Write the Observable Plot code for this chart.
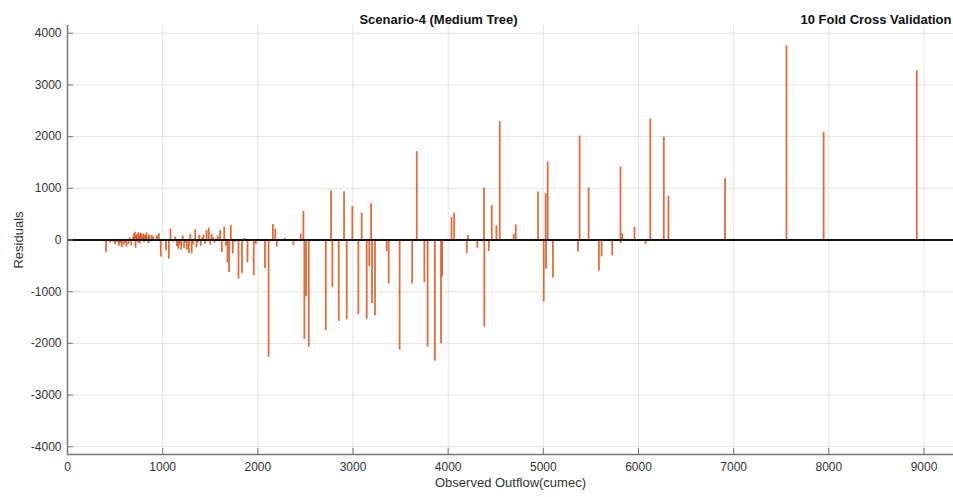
<!DOCTYPE html>
<html>
<head>
<meta charset="utf-8">
<script src="https://cdn.jsdelivr.net/npm/d3@7"></script>
<script src="https://cdn.jsdelivr.net/npm/@observablehq/plot@0.6"></script>
<style>
  html, body { margin: 0; padding: 0; background: #fff; }
  #chart { width: 953px; height: 497px; overflow: hidden; }
</style>
</head>
<body>
<div id="chart"></div>
<script>
const titleLeft = "Scenario-4 (Medium Tree)";
const titleRight = "10 Fold Cross Validation";
const xLabel = "Observed Outflow(cumec)";
const yLabel = "Residuals";

const xTicks = [0, 1000, 2000, 3000, 4000, 5000, 6000, 7000, 8000, 9000];
const yTicks = [-4000, -3000, -2000, -1000, 0, 1000, 2000, 3000, 4000];
const xDomain = [0, 9310];
const yDomain = [-4150, 4150];

const observed = [
  405, 450, 480, 500, 520, 540, 555, 570, 590, 605, 620, 640, 655, 670, 690, 700, 708, 715, 722, 730, 738, 745, 752, 760,
  768, 775, 782, 790, 798, 805, 812, 820, 830, 840, 848, 855, 862, 870, 885, 900, 920, 940, 960, 980, 1035, 1065, 1082,
  1110, 1130, 1150, 1165, 1180, 1195, 1210, 1225, 1240, 1255, 1276, 1290, 1305, 1320, 1342, 1355,
  1370, 1385, 1400, 1415, 1430, 1445, 1462, 1485, 1500, 1515, 1530, 1545, 1560, 1580, 1604, 1621,
  1647, 1665, 1681, 1698, 1716, 1737, 1760, 1797, 1833, 1860, 1891, 1930, 1957, 1979, 2030, 2075,
  2113, 2158, 2183, 2199, 2287, 2374, 2451, 2479, 2489, 2507, 2535,
  2714, 2769, 2783, 2850, 2906, 2934, 2993, 3056, 3091, 3144, 3171, 3190, 3200, 3231, 3354, 3375,
  3490, 3622, 3670, 3750, 3784, 3860, 3925, 3937, 4035, 4063, 4196, 4207, 4306, 4376, 4380, 4427,
  4458, 4507, 4542, 4689, 4710, 4944, 5004, 5025, 5028, 5046, 5101, 5364, 5381, 5476, 5584, 5612,
  5724, 5811, 5813, 5829, 5958, 6074, 6124, 6266, 6315, 6910, 7555, 7945, 8924
];
const residuals = [
  -240, -60, -40, -90, -50, -120, -70, -150, -100, -60, -140, -90, 40, -110, 60, 120, 150, -160, 90, 100, -60, 140, 70, -80,
  130, 110, 50, 60, 120, -50, 80, 90, 140, 30, -70, 100, 60, -40, 90, 60, -30, 80, 120, -330, -210, -370, 210,
  -40, 60, -130, -180, -100, -200, 80, -160, -60, -200, -260, 110, -270, -90, 200, -150,
  -60, 90, -120, 40, 100, -80, 180, 230, -100, 110, 40, -60, 20, 80, 180, -240,
  250, -120, -445, -630, 280, -270, -50, -755, -650, 30, -440, -20, -690, -90, -30, -550,
  -2270, 300, 215, -135, 30, -110, 115, 555, -1925, -1100, -2075,
  -1755, 955, -915, -1575, 935, -1545, 650, -1445, 520, -1535, -515, 700, -1230, -1465, -226, -850,
  -2130, -848, 1710, -825, -2073, -2344, -2008, -716, 435, 518, -267, 85, -158, 1005, -1686, -222,
  667, 274, 2290, 110, 290, 929, -1198, 897, -567, 1509, -735, -232, 2011, 1006, -600, -329,
  -309, 1412, -70, 120, 251, -90, 2340, 1990, 845, 1191, 3760, 2081, 3275
];

const data = observed.map((x, i) => ({x, r: residuals[i]}));

const font = "'Liberation Sans', Arial, Helvetica, sans-serif";
const width = 953, height = 497;
const mL = 67, mR = 0, mT = 25, mB = 43;
const frameW = width - mL - mR, frameH = height - mT - mB;
const fmt = d => String(d);

const chart = Plot.plot({
  width, height,
  marginLeft: mL, marginRight: mR, marginTop: mT, marginBottom: mB,
  style: {fontFamily: font, fontSize: "12px", color: "#333", background: "#fff"},
  x: {domain: xDomain, label: null},
  y: {domain: yDomain, label: null},
  marks: [
    Plot.gridX(xTicks, {stroke: "#e3e3e3", strokeOpacity: 1}),
    Plot.gridY(yTicks, {stroke: "#e3e3e3", strokeOpacity: 1}),
    Plot.ruleX(data, {x: "x", y1: 0, y2: "r", stroke: "#D95319", strokeOpacity: 0.85, strokeWidth: 1.8}),
    Plot.ruleY([0], {stroke: "#111", strokeWidth: 2}),
    Plot.ruleX([xDomain[0]], {stroke: "#777", strokeWidth: 1.5}),
    Plot.ruleY([yDomain[0]], {stroke: "#777", strokeWidth: 1.5}),
    Plot.tickY(yTicks, {y: d => d, stroke: "#777", insetRight: frameW - 6}),
    Plot.tickX(xTicks, {x: d => d, stroke: "#777", insetTop: frameH - 6}),
    Plot.axisY(yTicks, {tickSize: 0, tickPadding: 6, fontSize: 12, fill: "#333", tickFormat: fmt}),
    Plot.axisX(xTicks, {tickSize: 0, tickPadding: 8, fontSize: 12, fill: "#333", tickFormat: fmt}),
    Plot.text([yLabel], {text: d => d, frameAnchor: "left", dx: -49, rotate: -90, textAnchor: "middle", fontSize: 13, fill: "#333"}),
    Plot.text([xLabel], {text: d => d, frameAnchor: "bottom", dy: 32, textAnchor: "middle", fontSize: 13, fill: "#333"}),
    Plot.text([titleLeft], {text: d => d, frameAnchor: "top-left", dx: 371, dy: -11, textAnchor: "middle", fontWeight: "bold", fontSize: 13, fill: "#111"}),
    Plot.text([titleRight], {text: d => d, frameAnchor: "top-right", dx: -2, dy: -11, textAnchor: "end", fontWeight: "bold", fontSize: 13, fill: "#111"})
  ]
});
document.getElementById("chart").appendChild(chart);
</script>
</body>
</html>
